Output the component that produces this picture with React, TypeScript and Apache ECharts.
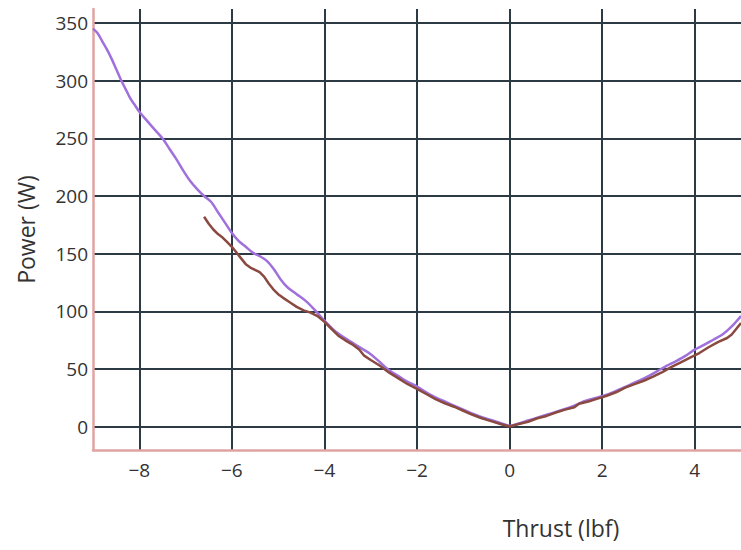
import React, { useEffect, useRef } from "react";
import * as echarts from "echarts";

// Measured motor power versus thrust, two runs
const runAThrust = [
  -9.0, -8.9, -8.8, -8.7, -8.6, -8.5, -8.4, -8.3, -8.2, -8.1, -8.0, -7.85, -7.7, -7.5, -7.35, -7.2,
  -7.05, -6.9, -6.75, -6.6, -6.45, -6.3, -6.15, -6.0, -5.85, -5.7, -5.55, -5.4, -5.25, -5.1, -4.95,
  -4.8, -4.6, -4.4, -4.2, -4.0, -3.8, -3.6, -3.4, -3.2, -3.0, -2.8, -2.6, -2.4, -2.2, -2.0, -1.8,
  -1.6, -1.4, -1.2, -1.0, -0.8, -0.6, -0.4, -0.2, 0.0, 0.2, 0.4, 0.6, 0.8, 1.0, 1.2, 1.4, 1.6, 1.8,
  2.0, 2.2, 2.4, 2.6, 2.8, 3.0, 3.2, 3.4, 3.6, 3.8, 4.0, 4.2, 4.4, 4.6, 4.8, 5.0,
];
const runAPower = [
  345, 341, 334, 327, 319, 310, 301, 293, 285, 279, 273, 266, 259, 250, 241, 232,
  222, 213, 206, 200, 195, 186, 177, 168, 161, 156, 151, 148, 144, 137, 128,
  121, 115, 109, 101, 92, 84, 78, 73, 68, 63, 56, 49, 44, 39, 35, 30,
  25.5, 22, 18.5, 15, 11.5, 8.5, 6, 3.5, 1, 3, 5.5, 8, 10.5, 13, 15.5, 18.5, 22, 24.5,
  26.5, 29.5, 33, 36.5, 40, 44, 48.5, 53, 57, 61.5, 67, 71, 75.5, 80, 87, 96,
];

const runBThrust = [
  -6.6, -6.5, -6.4, -6.3, -6.2, -6.1, -6.0, -5.9, -5.8, -5.7, -5.6, -5.5, -5.4, -5.3, -5.2, -5.1,
  -5.0, -4.9, -4.75, -4.6, -4.45, -4.3, -4.15, -4.0, -3.85, -3.7, -3.55, -3.4, -3.25, -3.15, -3.0,
  -2.8, -2.6, -2.4, -2.2, -2.0, -1.8, -1.6, -1.4, -1.2, -1.0, -0.8, -0.6, -0.4, -0.2, 0.0, 0.2,
  0.4, 0.6, 0.8, 1.0, 1.2, 1.4, 1.5, 1.7, 1.9, 2.1, 2.3, 2.5, 2.7, 2.9, 3.1, 3.3, 3.5, 3.7, 3.9,
  4.1, 4.3, 4.5, 4.7, 4.8, 4.9, 5.0,
];
const runBPower = [
  182, 176, 171, 167, 164, 160, 156, 151, 146, 141, 138, 136, 134, 130, 124, 119,
  115, 112, 108, 104, 101, 99, 96, 91, 85, 79, 75, 71.5, 67, 62, 58,
  53, 47, 42, 37, 33, 28.5, 24, 20.5, 17.5, 14, 10.5, 7.5, 5, 2.5, 0.3, 2.5,
  4.5, 7.5, 9.5, 12.5, 15, 17, 20, 22, 24.5, 27, 30, 34, 37, 40, 43.5, 47.5, 52, 56, 60,
  64, 69, 73.5, 77, 80, 85, 90,
];

const xTicks = [-8, -6, -4, -2, 0, 2, 4];
const yTicks = [0, 50, 100, 150, 200, 250, 300, 350];

const pair = (xs: number[], ys: number[]) => xs.map((x, i) => [x, ys[i]]);

const FONT = "'Open Sans', 'Noto Sans', sans-serif";
const GRID_COLOR = "#2c3a44";
const AXIS_COLOR = "#e0a3a3";
const TEXT_COLOR = "#333";

export default function App() {
  const ref = useRef<HTMLDivElement>(null);

  useEffect(() => {
    if (!ref.current) return;
    const chart = echarts.init(ref.current, undefined, { renderer: "svg" });
    chart.setOption({
      animation: false,
      backgroundColor: "#ffffff",
      grid: { left: 93, right: 0, top: 9, bottom: 100, containLabel: false },
      xAxis: {
        type: "value",
        min: -9,
        max: 5,
        name: "Thrust (lbf)",
        nameLocation: "middle",
        nameGap: 66,
        nameTextStyle: {
          fontFamily: FONT,
          fontSize: 23,
          color: TEXT_COLOR,
          padding: [0, 0, 0, 288],
        },
        axisLine: { show: true, onZero: false, lineStyle: { color: AXIS_COLOR, width: 2.5 } },
        axisTick: { show: false, customValues: xTicks },
        axisLabel: {
          customValues: xTicks,
          fontFamily: FONT,
          fontSize: 19,
          color: TEXT_COLOR,
          margin: 10,
          formatter: (v: number) => (v < 0 ? "\u2212" + Math.abs(v) : String(v)),
        },
        splitLine: { show: true, lineStyle: { color: GRID_COLOR, width: 2 } },
      },
      yAxis: {
        type: "value",
        min: -20,
        max: 362,
        name: "Power (W)",
        nameLocation: "middle",
        nameGap: 56,
        nameTextStyle: { fontFamily: FONT, fontSize: 23, color: TEXT_COLOR },
        axisLine: { show: true, onZero: false, lineStyle: { color: AXIS_COLOR, width: 2.5 } },
        axisTick: { show: false, customValues: yTicks },
        axisLabel: {
          customValues: yTicks,
          fontFamily: FONT,
          fontSize: 19,
          color: TEXT_COLOR,
          margin: 5,
        },
        splitLine: { show: true, lineStyle: { color: GRID_COLOR, width: 2 } },
      },
      series: [
        {
          type: "line",
          data: pair(runAThrust, runAPower),
          showSymbol: false,
          smooth: 0.3,
          lineStyle: { color: "#a070dc", width: 2.5 },
          z: 3,
        },
        {
          type: "line",
          data: pair(runBThrust, runBPower),
          showSymbol: false,
          lineStyle: { color: "#8a4a40", width: 2.5 },
          z: 4,
        },
      ],
    });
    return () => chart.dispose();
  }, []);

  return (
    <div
      ref={ref}
      style={{ position: "fixed", left: 0, top: 0, width: 741, height: 550 }}
    />
  );
}
